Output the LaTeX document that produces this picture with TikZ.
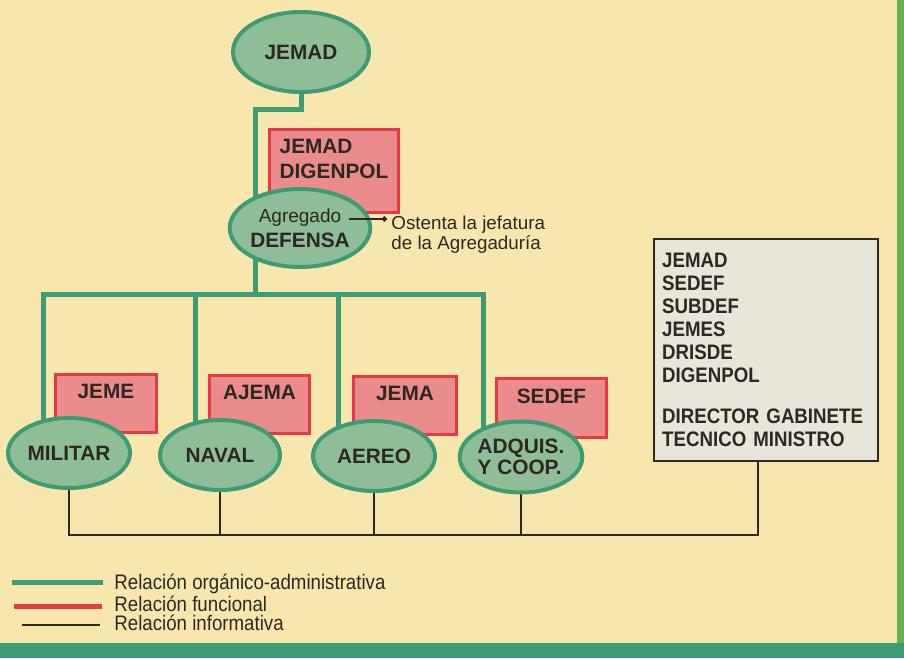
\documentclass[tikz,border=0pt]{standalone}
\usepackage{fontspec}
\setmainfont{Liberation Sans}
\newfontfamily\condfont{Liberation Sans}[FakeStretch=0.89]
\usetikzlibrary{shapes.geometric,arrows.meta}

\definecolor{paper}{RGB}{248,231,172}
\definecolor{orggreen}{RGB}{62,156,116}
\definecolor{sage}{RGB}{141,190,152}
\definecolor{funcred}{RGB}{228,58,70}
\definecolor{funcpink}{RGB}{234,140,140}
\definecolor{boxgray}{RGB}{232,229,218}
\definecolor{ink}{RGB}{45,40,35}
\definecolor{stripe}{RGB}{96,176,84}

\pgfdeclarelayer{background}
\pgfsetlayers{background,main}

\tikzstyle{organ} = [ellipse,draw=orggreen,fill=sage,line width=2pt,inner sep=0pt,text=ink,font=\fontsize{10.4}{12.5}\selectfont\bfseries]
\tikzstyle{func} = [rectangle,draw=funcred,fill=funcpink,line width=1.5pt,inner xsep=4pt,inner ysep=5pt,text depth=12pt,anchor=north west,align=left,text=ink,font=\fontsize{10.4}{12.5}\selectfont\bfseries]
\tikzstyle{infobox} = [rectangle,draw=ink,fill=boxgray,line width=1.2pt,inner xsep=3pt,anchor=north west,align=left,text=ink,font=\condfont\fontsize{10.5}{11.5}\selectfont\bfseries]
\tikzstyle{org} = [orggreen,line width=2.5pt]
\tikzstyle{fun} = [funcred,line width=2.5pt]
\tikzstyle{info} = [ink,line width=1.2pt]
\tikzstyle{note} = [inner sep=2pt,align=left,text=ink,font=\fontsize{9.4}{10}\selectfont]
\tikzstyle{legend} = [inner sep=2pt,text=ink,font=\condfont\fontsize{10.5}{11}\selectfont]

\begin{document}
\begin{tikzpicture}[x=0.5pt,y=-0.5pt]
\useasboundingbox (0,0) rectangle (904,658);

% vertices
\node[func,minimum width=64.5pt] (fjemad) at (268,128) {JEMAD\\DIGENPOL};
\node[func,minimum width=50.5pt,align=center] (fjeme) at (54,373) {JEME};
\node[func,minimum width=50pt,align=center] (fajema) at (208,374) {AJEMA};
\node[func,minimum width=51.5pt,align=center] (fjema) at (352,375) {JEMA};
\node[func,minimum width=55pt,align=center] (fsedef) at (495,377) {SEDEF};

\node[organ,minimum width=68pt,minimum height=40pt] (jemad) at (301,52) {JEMAD};
\node[organ,minimum width=68pt,minimum height=39pt,align=center] (def) at (300,228) {{\mdseries\fontsize{9.5}{12.5}\selectfont Agregado}\\DEFENSA};
\node[organ,minimum width=61pt,minimum height=35pt] (mil) at (69,453) {MILITAR};
\node[organ,minimum width=60pt,minimum height=35pt] (nav) at (220,455) {NAVAL};
\node[organ,minimum width=61pt,minimum height=35pt] (aer) at (374,456) {AEREO};
\node[organ,minimum width=61pt,minimum height=35.5pt,align=left,font=\fontsize{10.4}{10.2}\selectfont\bfseries] (adq) at (521,457) {ADQUIS.\\Y COOP.};

\node[infobox,minimum width=112pt,minimum height=111pt,text width=104pt] (box) at (653,238)
  {JEMAD\\SEDEF\\SUBDEF\\JEMES\\DRISDE\\DIGENPOL\\[9pt]DIRECTOR GABINETE\\TECNICO MINISTRO};

\node[note,anchor=north west] (ostenta) at (387,211) {Ostenta la jefatura\\de la Agregadur\'ia};
\coordinate (agr) at (349,219);

% edges
\begin{pgfonlayer}{background}
\fill[paper] (0,0) rectangle (904,658);
\fill[stripe] (897,0) rectangle (904,658);
\fill[orggreen] (0,643) rectangle (904,658);

\coordinate (jbend) at (255,110);
\coordinate (orgbus) at (255,294);
\draw[org] (jemad.center) |- (jbend) -- (orgbus);
\foreach \n/\x in {mil/43,nav/195,aer/338,adq/483} {
    \coordinate (top\n) at (\x,294);
    \draw[org] (top\n) -- (top\n |- \n.center);
}
\draw[org] (topmil |- mil.north) -- (topmil) -- (topadq) -- (topadq |- adq.north);

\coordinate (infobus) at (0,535);
\foreach \n in {nav,aer} {
    \draw[info] (\n.center) -- (\n.center |- infobus);
}
\draw[info] (mil.center) -- (mil.center |- infobus) -- ([xshift=-4pt]box.south |- infobus) -- ([xshift=-4pt]box.south);
\draw[info] (adq.center) -- (adq.center |- infobus);
\end{pgfonlayer}

\draw[ink,line width=0.8pt,-{Circle[length=2.6pt]}] (agr) -- (agr -| ostenta.west);

% legend
\node[legend,anchor=west] (lorg) at (110,584) {Relaci\'on org\'anico-administrativa};
\node[legend,anchor=west] (lfun) at (110,604) {Relaci\'on funcional};
\node[legend,anchor=west] (linf) at (110,623) {Relaci\'on informativa};
\coordinate (korg) at (12,582);
\coordinate (kfun) at (14,606);
\coordinate (kinf) at (22,625);
\draw[org] (korg) -- ([xshift=-3.5pt]korg -| lorg.west);
\draw[fun] (kfun) -- ([xshift=-4pt]kfun -| lfun.west);
\draw[info] (kinf) -- ([xshift=-5pt]kinf -| linf.west);

\end{tikzpicture}
\end{document}
